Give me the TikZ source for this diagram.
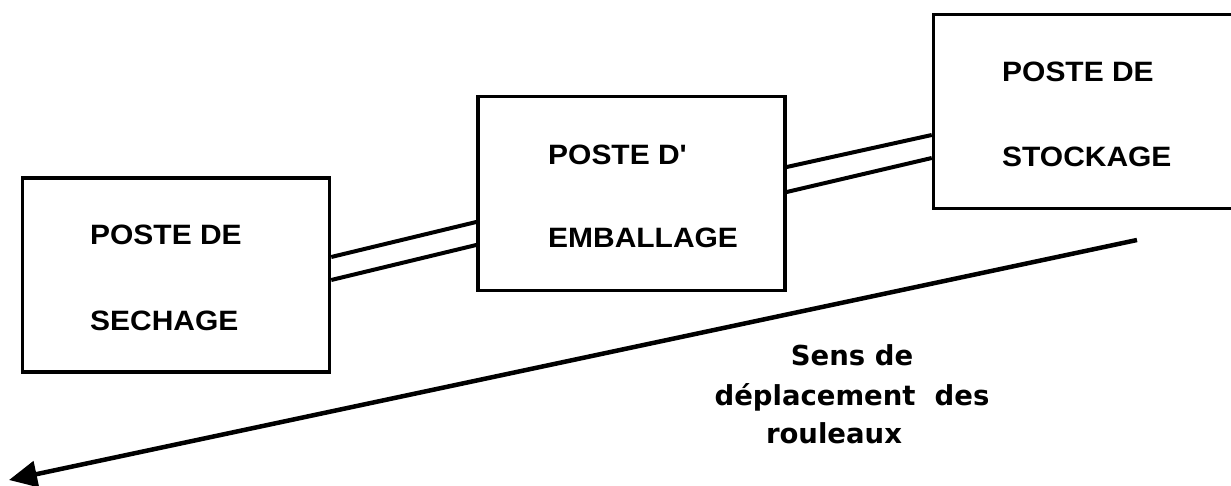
\documentclass[tikz,border=0pt]{standalone}
\usepackage{fontspec}
\setmainfont{Liberation Sans}
\newfontfamily\boxfont[FakeStretch=1.07]{Liberation Sans Bold}
\newfontfamily\notefont{DejaVu Sans}
\usetikzlibrary{arrows.meta}
\begin{document}
\begin{tikzpicture}[x=1pt,y=-1pt,
  station/.style={draw, line width=3.5pt, minimum width=307pt, minimum height=194pt, inner sep=0pt},
  stationtext/.style={anchor=base west, inner sep=0pt, font=\boxfont\fontsize{28}{30}\selectfont},
  rail/.style={line width=4pt},
  flow/.style={line width=4.5pt, -{Triangle[length=28pt,width=26pt]}},
  notetext/.style={anchor=base, inner sep=0pt, font=\notefont\bfseries\fontsize{27.5}{32}\selectfont},
  ]
\useasboundingbox (0,0) rectangle (1231,486);
\clip (0,0) rectangle (1231,486);

% stations
\node[station] (b1) at (176,275) {};
\node[station] (b2) at (631.5,193.5) {};
\node[station] (b3) at (1087,111.5) {};

\node[stationtext] (t1a) at (90,245) {POSTE DE};
\node[stationtext] (t1b) at (90,330) {SECHAGE};
\node[stationtext] (t2a) at (548,165) {POSTE D'};
\node[stationtext] (t2b) at (548,248) {EMBALLAGE};
\node[stationtext] (t3a) at (1002,82) {POSTE DE};
\node[stationtext] (t3b) at (1002,167) {STOCKAGE};

% conveyor rails between stations
\draw[rail] (b1.east |- 0,257) -- (b2.west |- 0,222);
\draw[rail] (b1.east |- 0,280) -- (b2.west |- 0,245);
\draw[rail] (b2.east |- 0,167) -- (b3.west |- 0,135);
\draw[rail] (b2.east |- 0,192) -- (b3.west |- 0,158);

% direction of travel
\coordinate (from) at (1137,240);
\coordinate (to) at (9,480);
\draw[flow] (from) -- (to);

\node[notetext] (s1) at (852,365) {Sens de};
\node[notetext] (s2) at (852,405) {déplacement~ des};
\node[notetext] (s3) at (834,443) {rouleaux};
\end{tikzpicture}
\end{document}
